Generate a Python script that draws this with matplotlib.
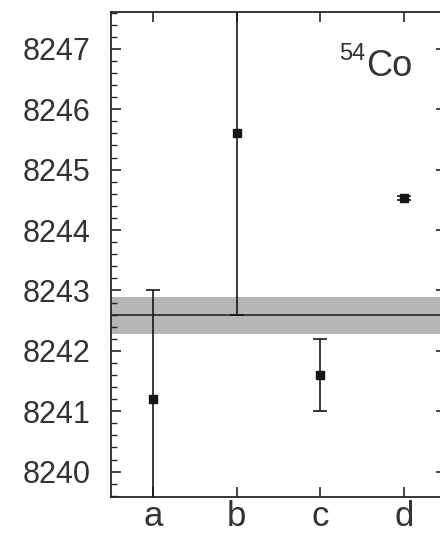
import matplotlib
matplotlib.use("Agg")
import matplotlib.pyplot as plt
from matplotlib.ticker import MultipleLocator

plt.rcParams['font.family'] = ['Liberation Sans', 'DejaVu Sans']

categories = ['a', 'b', 'c', 'd']
values = [8241.2, 8245.6, 8241.6, 8244.53]
errors = [1.8, 3.0, 0.6, 0.04]
mean_value = 8242.6
band_low = 8242.28
band_high = 8242.89
label_mass = '54'
label_elem = 'Co'

dark = '#262626'
H = 536
fig = plt.figure(figsize=(4.4, 5.36), dpi=100)
ax = fig.add_axes([111/440, (H-497)/H, (446-111)/440, (497-12)/H])

x = list(range(1, len(categories) + 1))
ax.axhspan(band_low, band_high, color='#b6b6b9', lw=0, zorder=1)
ax.axhline(mean_value, color=dark, lw=1.2, zorder=2)
ax.errorbar(x, values, yerr=errors, fmt='s', color='#161616', ms=5.8,
            elinewidth=1.2, capsize=5, capthick=1.2, zorder=3)

ax.set_xlim(0.5, 4.5)
ax.set_ylim(8239.58, 8247.61)
ax.set_xticks(x)
ax.set_xticklabels(categories)
ax.yaxis.set_major_locator(MultipleLocator(1))
ax.yaxis.set_minor_locator(MultipleLocator(0.2))
ax.yaxis.set_major_formatter(matplotlib.ticker.FormatStrFormatter('%d'))

ax.tick_params(axis='y', which='major', direction='in', length=7, width=1.2,
               labelsize=22, pad=15, colors=dark, right=True, labelcolor='#333333')
ax.tick_params(axis='y', which='minor', direction='in', length=4.5, width=1.0,
               right=True, colors=dark)
ax.tick_params(axis='x', which='major', direction='in', length=7, width=1.2,
               labelsize=25, pad=2, top=True, colors=dark, labelcolor='#333333')
for s in ax.spines.values():
    s.set_linewidth(1.3)
    s.set_color(dark)

ax.text(365, H - 60, label_mass, transform=None, fontsize=17, ha='right', va='baseline',
        color='#333333')
ax.text(366, H - 76, label_elem, transform=None, fontsize=26, ha='left', va='baseline',
        color='#333333')

fig.savefig('out.png', dpi=100)
